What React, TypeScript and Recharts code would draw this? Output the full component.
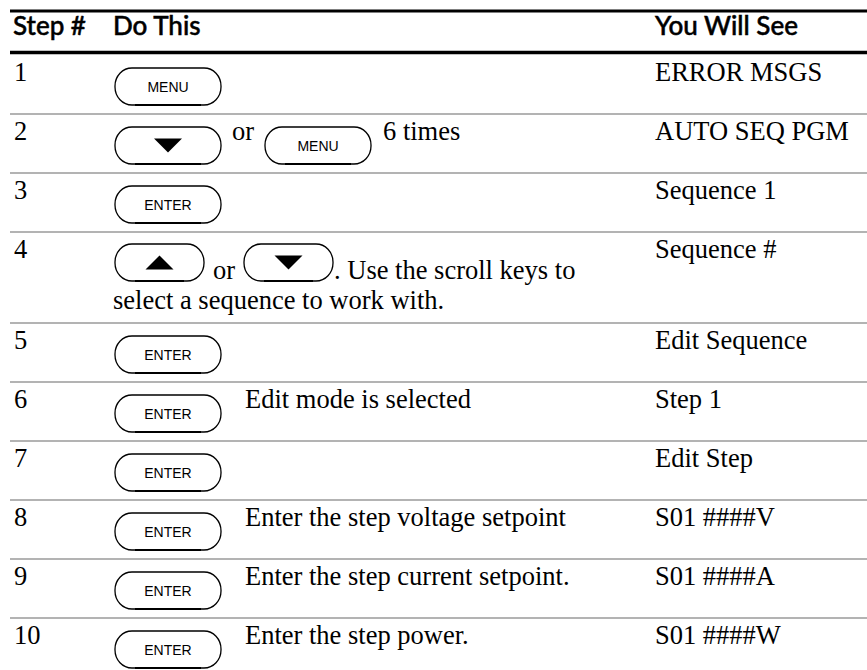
import { ReferenceLine, Scatter, ScatterChart, XAxis, YAxis } from "recharts";

// table content
const columns = ["Step #", "Do This", "You Will See"];
const stepNumbers = ["1", "2", "3", "4", "5", "6", "7", "8", "9", "10"];
const keyPresses = [
  ["MENU"],
  ["DOWN", "MENU"],
  ["ENTER"],
  ["UP", "DOWN"],
  ["ENTER"],
  ["ENTER"],
  ["ENTER"],
  ["ENTER"],
  ["ENTER"],
  ["ENTER"],
];
const notes = [
  "",
  "6 times",
  "",
  ". Use the scroll keys to",
  "",
  "Edit mode is selected",
  "",
  "Enter the step voltage setpoint",
  "Enter the step current setpoint.",
  "Enter the step power.",
];
const secondLines = ["", "", "", "select a sequence to work with.", "", "", "", "", "", ""];
const results = [
  "ERROR MSGS",
  "AUTO SEQ PGM",
  "Sequence 1",
  "Sequence #",
  "Edit Sequence",
  "Step 1",
  "Edit Step",
  "S01 ####V",
  "S01 ####A",
  "S01 ####W",
];

const W = 867;
const H = 670;
const MARGIN = { top: 11, right: 0, bottom: 0, left: 10 };
const PLOT_W = W - MARGIN.left - MARGIN.right;
const PLOT_H = H - MARGIN.top - MARGIN.bottom;

const HEADER_H = 44;
const ROW_H = 59;
const EXTRA_LINE = 32;
const COL_X = [3, 103, 645];
const KEY_W = 106;
const KEY_W_NARROW = 89;
const KEY_H = 37;
const FS = 26.5;

const serif = "'Liberation Serif', 'Times New Roman', serif";
const sans = "Lato, 'Noto Sans', sans-serif";
const keyFont = "'Liberation Sans', Arial, sans-serif";

let top = HEADER_H;
const rows = stepNumbers.map((step, i) => {
  const height = ROW_H + (secondLines[i] ? EXTRA_LINE : 0);
  const row = {
    x: 0,
    y: top,
    step,
    keys: keyPresses[i],
    note: notes[i],
    second: secondLines[i],
    result: results[i],
  };
  top += height;
  return row;
});
const headerData = [{ x: 0, y: 0 }];

function KeyCap({ x, y, w, label }: { x: number; y: number; w: number; label: string }) {
  const cx = x + w / 2;
  const cy = y + KEY_H / 2;
  let face;
  if (label === "UP") {
    face = <polygon points={`${cx - 14},${cy + 7} ${cx + 14},${cy + 7} ${cx},${cy - 7}`} fill="#000" />;
  } else if (label === "DOWN") {
    face = <polygon points={`${cx - 14},${cy - 7} ${cx + 14},${cy - 7} ${cx},${cy + 7}`} fill="#000" />;
  } else {
    face = (
      <text x={cx} y={cy + 5} textAnchor="middle" fontFamily={keyFont} fontSize={14} fill="#000">
        {label}
      </text>
    );
  }
  return (
    <g>
      <rect x={x} y={y} width={w} height={KEY_H} rx={17} ry={18} fill="#fff" stroke="#000" strokeWidth={1.3} />
      <path d={`M${x + 20},${y + KEY_H} L${x + w - 20},${y + KEY_H}`} stroke="#000" strokeWidth={2} />
      {face}
    </g>
  );
}

const HeaderShape = (props: any) => {
  const { cx, cy } = props;
  return (
    <g>
      {columns.map((c, i) => (
        <text key={c} x={cx + COL_X[i]} y={cy + 24} fontFamily={sans} fontWeight={500} fontSize={26} fill="#000" stroke="#000" strokeWidth={0.5}>
          {c}
        </text>
      ))}
    </g>
  );
};

const RowShape = (props: any) => {
  const { cx, cy, payload } = props;
  const twoLines = !!payload.second;
  const keyTop = cy + (twoLines ? 12 : 13);
  const kw = twoLines ? KEY_W_NARROW : KEY_W;
  const gap = twoLines ? 9 : 11;
  const textY = twoLines ? cy + 47 : cy + 26;
  const parts: any[] = [];
  let x = cx + 105;
  payload.keys.forEach((k: string, i: number) => {
    if (i > 0) {
      x += gap;
      parts.push(
        <text key={"or" + i} x={x} y={textY} fontFamily={serif} fontSize={FS} fill="#000">
          or
        </text>
      );
      x += 22 + gap;
    }
    parts.push(<KeyCap key={"k" + i} x={x} y={keyTop} w={kw} label={k} />);
    x += kw;
  });
  if (payload.note) {
    const noteGap = payload.note.startsWith(".") ? 1 : payload.keys.length > 1 ? 12 : 24;
    parts.push(
      <text key="note" x={x + noteGap} y={textY} fontFamily={serif} fontSize={FS} fill="#000">
        {payload.note}
      </text>
    );
  }
  return (
    <g>
      <text x={cx + 4} y={cy + 26} fontFamily={serif} fontSize={FS} fill="#000">
        {payload.step}
      </text>
      {parts}
      {twoLines && (
        <text x={cx + COL_X[1]} y={cy + 77} fontFamily={serif} fontSize={FS} fill="#000">
          {payload.second}
        </text>
      )}
      <text x={cx + COL_X[2]} y={cy + 26} fontFamily={serif} fontSize={FS} fill="#000">
        {payload.result}
      </text>
    </g>
  );
};

export default function App() {
  return (
    <div style={{ position: "absolute", left: 0, top: 0, width: W, height: H, overflow: "hidden", background: "#fff" }}>
      <ScatterChart width={W} height={H} margin={MARGIN}>
        <XAxis type="number" dataKey="x" domain={[0, PLOT_W]} allowDataOverflow hide />
        <YAxis type="number" dataKey="y" domain={[0, PLOT_H]} allowDataOverflow reversed hide />
        <ReferenceLine y={0} stroke="#000" strokeWidth={3} />
        <ReferenceLine y={HEADER_H - 2.5} stroke="#000" strokeWidth={3.5} />
        {rows.slice(1).map((r) => (
          <ReferenceLine key={r.step} y={r.y} stroke="#b3b3b3" strokeWidth={2} />
        ))}
        <Scatter data={headerData} shape={HeaderShape} isAnimationActive={false} />
        <Scatter data={rows} shape={RowShape} isAnimationActive={false} />
      </ScatterChart>
    </div>
  );
}
